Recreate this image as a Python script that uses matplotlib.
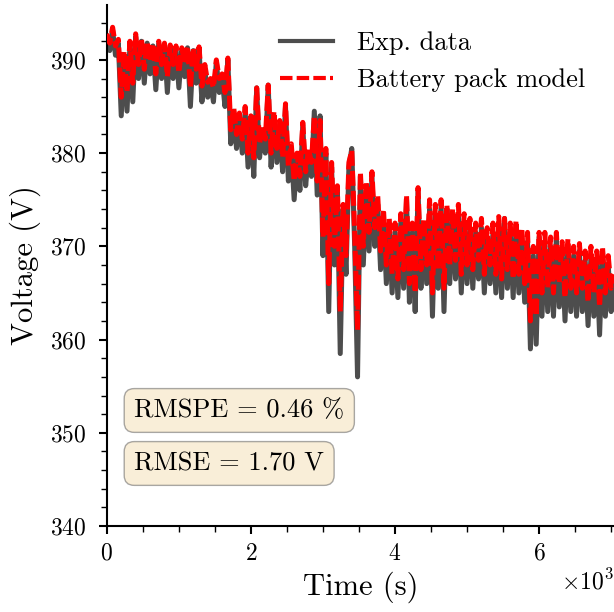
import matplotlib
matplotlib.use("Agg")
import matplotlib.pyplot as plt
from matplotlib.ticker import MultipleLocator, ScalarFormatter
import numpy as np

plt.rcParams['font.family'] = ['cmr10', 'DejaVu Serif']
plt.rcParams['mathtext.fontset'] = 'cm'
plt.rcParams['axes.unicode_minus'] = False
plt.rcParams['axes.formatter.use_mathtext'] = True

time_step_s = 40
exp_voltage = [
    392.5, 391.0, 393.2, 390.5, 391.8, 384.0, 390.5, 384.5, 391.5, 385.5,
    392.5, 388.0, 392.0, 387.5, 391.8, 388.5, 391.5, 386.8, 391.8, 388.0,
    391.6, 386.5, 391.4, 388.0, 391.2, 387.0, 391.0, 388.2, 391.3, 385.0,
    391.0, 387.5, 391.2, 385.5, 389.0, 386.0, 387.5, 385.5, 389.8, 386.5,
    388.0, 385.0, 390.0, 381.0, 384.5, 380.5, 383.8, 380.0, 384.5, 378.5,
    383.5, 377.5, 387.0, 379.5, 382.5, 380.0, 387.3, 378.5, 384.0, 379.0,
    383.0, 378.0, 385.0, 377.0, 380.5, 375.0, 379.5, 376.0, 383.0, 376.5,
    380.0, 377.5, 384.5, 375.5, 384.0, 369.0, 380.0, 363.0, 378.5, 368.0,
    376.0, 358.5, 374.0, 367.0, 378.5, 380.5, 370.0, 356.0, 377.5, 368.0,
    376.0, 369.5, 377.5, 370.0, 374.5, 367.5, 373.0, 366.0, 372.0, 365.0,
    371.5, 364.5, 372.5, 365.5, 375.0, 364.0, 371.5, 363.0, 376.0, 365.5,
    372.0, 366.0, 374.0, 362.5, 373.5, 365.5, 374.5, 363.0, 374.0, 366.0,
    373.0, 366.5, 373.5, 365.0, 372.5, 366.0, 372.0, 365.5, 371.5, 366.5,
    372.0, 365.0, 371.0, 366.0, 371.5, 365.0, 372.5, 364.5, 373.0, 365.5,
    371.5, 364.5, 372.0, 365.0, 371.0, 364.0, 370.5, 359.0, 369.0, 359.5,
    371.0, 362.5, 370.5, 363.0, 370.0, 362.5, 371.0, 363.5, 369.5, 362.0,
    370.0, 363.0, 369.0, 362.5, 369.5, 363.0, 368.5, 361.5, 369.0, 362.5,
    368.5, 360.5, 369.5, 362.5, 368.0, 363.0, 366.0,
]
model_voltage = [
    392.8, 391.8, 393.5, 391.5, 392.2, 386.0, 391.0, 386.5, 392.0, 387.5,
    392.8, 389.5, 392.3, 389.0, 392.0, 389.8, 391.8, 388.5, 392.0, 389.5,
    391.8, 388.2, 391.6, 389.5, 391.5, 388.6, 391.3, 389.6, 391.5, 387.0,
    391.3, 389.0, 391.4, 387.2, 389.5, 387.6, 388.0, 387.0, 390.0, 388.0,
    388.5, 386.5, 390.2, 382.5, 385.0, 382.0, 384.3, 381.5, 385.0, 380.0,
    384.0, 379.5, 387.0, 381.0, 383.0, 381.5, 387.3, 380.0, 384.5, 380.5,
    383.5, 379.5, 385.3, 378.5, 381.0, 377.0, 380.0, 377.5, 383.3, 378.0,
    380.5, 379.0, 384.0, 377.0, 383.5, 371.0, 380.5, 366.0, 379.0, 370.0,
    376.5, 363.0, 374.5, 369.0, 379.0, 380.3, 371.5, 361.0, 378.0, 370.0,
    377.0, 371.5, 378.0, 372.0, 375.5, 369.5, 374.0, 368.0, 373.0, 367.0,
    372.5, 366.5, 373.5, 367.5, 375.5, 366.0, 372.5, 365.0, 376.3, 367.5,
    373.0, 368.0, 375.0, 365.0, 374.5, 367.5, 375.0, 365.5, 374.5, 368.0,
    374.0, 368.5, 374.5, 367.0, 373.5, 368.0, 373.0, 367.5, 372.5, 368.5,
    373.0, 367.0, 372.0, 368.0, 372.5, 367.0, 373.2, 366.5, 373.0, 367.5,
    372.5, 366.5, 372.8, 367.0, 372.0, 366.0, 371.5, 362.0, 370.0, 362.5,
    371.5, 365.0, 371.5, 365.5, 371.0, 365.0, 371.5, 366.0, 370.5, 364.5,
    370.8, 365.5, 370.0, 365.0, 370.3, 365.5, 369.5, 364.0, 370.0, 365.0,
    369.5, 363.5, 370.0, 365.0, 369.0, 365.5, 367.0,
]
time_s = np.arange(len(exp_voltage)) * time_step_s

rmspe_text = "RMSPE = 0.46 %"
rmse_text = "RMSE = 1.70 V"

fig = plt.figure(figsize=(6.14, 6.12), dpi=100)
ax = fig.add_axes([0.174, 0.1405, 0.826, 0.8515])

ax.plot(time_s, exp_voltage, color='#4d4d4d', lw=3.6, label='Exp. data', zorder=2)
ax.plot(time_s, model_voltage, color='#ff0000', lw=3.6, ls=(0, (3, 1)),
        label='Battery pack model', zorder=3)

ax.set_xlim(0, 7040)
ax.set_ylim(340, 395.9)
ax.xaxis.set_major_locator(MultipleLocator(2000))
ax.xaxis.set_minor_locator(MultipleLocator(500))
ax.yaxis.set_major_locator(MultipleLocator(10))
ax.yaxis.set_minor_locator(MultipleLocator(2))
fmt = ScalarFormatter(useMathText=True)
fmt.set_powerlimits((0, 0))
ax.xaxis.set_major_formatter(fmt)
ax.xaxis.get_offset_text().set_fontsize(17)

for s in ['top', 'right']:
    ax.spines[s].set_visible(False)
for s in ['left', 'bottom']:
    ax.spines[s].set_linewidth(1.5)
ax.tick_params(which='major', direction='out', length=6, width=1.5, labelsize=17)
ax.tick_params(which='minor', direction='out', length=4, width=1.0)
ax.tick_params(axis='y', which='major', pad=9)
ax.tick_params(axis='x', which='major', pad=6)

ax.set_xlabel('Time (s)', fontsize=22, labelpad=5)
ax.set_ylabel('Voltage (V)', fontsize=22, labelpad=6)

leg = ax.legend(loc='upper right', frameon=False, fontsize=19, handlelength=2.0,
                handletextpad=0.9, labelspacing=0.5, bbox_to_anchor=(0.99, 0.995))
for h in leg.get_lines():
    h.set_linewidth(3)

box = dict(boxstyle='round,pad=0.38', facecolor='#f5deb3', alpha=0.5, edgecolor='#555555')
ax.text(0.054, 0.2217, rmspe_text, transform=ax.transAxes, fontsize=19,
        va='center', ha='left', bbox=box)
ax.text(0.054, 0.12, rmse_text, transform=ax.transAxes, fontsize=19,
        va='center', ha='left', bbox=box)

fig.savefig('out.png', dpi=100)
